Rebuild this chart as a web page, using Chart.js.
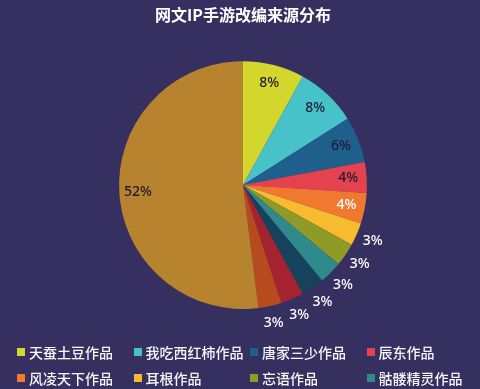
<!DOCTYPE html>
<html>
<head>
<meta charset="utf-8">
<script src="https://cdn.jsdelivr.net/npm/chart.js@4"></script>
<style>
  html, body { margin: 0; padding: 0; background: #363060; }
  #wrap { position: relative; width: 480px; height: 389px; overflow: hidden; }
  #legend {
    position: absolute; left: 14px; top: 339px; width: 470px;
    display: grid; grid-template-columns: repeat(4, 116.5px); grid-auto-rows: 26px;
    font-family: "Noto Sans CJK SC", sans-serif; font-size: 14px; font-weight: 500; color: #f6f6f6;
  }
  #legend div { display: flex; align-items: center; white-space: nowrap; }
  #legend span.box { width: 8px; height: 8px; margin: 0 4px 0 3px; }
</style>
</head>
<body>
<div id="wrap">
  <canvas id="c" width="480" height="389"></canvas>
  <div id="legend"></div>
</div>
<script>
// data
var categories = ["天蚕土豆作品", "我吃西红柿作品", "唐家三少作品", "辰东作品",
                  "风凌天下作品", "耳根作品", "忘语作品", "骷髅精灵作品",
                  "猫腻作品", "烽火戏诸侯作品", "天下霸唱作品", "其他"];
var shares = [8, 8, 6, 4, 4, 3, 3, 3, 3, 3, 3, 52];
var colors = ["#d3d62c", "#48c2c9", "#1f5f8c", "#e3424e", "#f0792f", "#f8bb2f",
              "#8f9a27", "#2f8a8c", "#16425e", "#a5232f", "#b84b1e", "#b8832e"];
var legendCount = 8;

// percent labels on / beside the slices
var pctLabels = {
    id: 'pctLabels',
    afterDatasetsDraw(chart){
        var ctx = chart.ctx;
        var meta = chart.getDatasetMeta(0);
        ctx.save();
        ctx.font = '500 14px "Noto Sans", sans-serif';
        ctx.textAlign = 'center';
        ctx.textBaseline = 'middle';
        meta.data.forEach(function(arc, i){
            var p = arc.getProps(['startAngle','endAngle','outerRadius','x','y'], true);
            var mid = (p.startAngle + p.endAngle) / 2;
            var outside = shares[i] < 4;
            var r = p.outerRadius * (outside ? 1.14 : 0.85);
            ctx.fillStyle = (outside || i == 4) ? '#ffffff' : '#1e1b30';
            ctx.fillText(shares[i] + '%', p.x + Math.cos(mid) * r, p.y + Math.sin(mid) * r);
        });
        ctx.restore();
    }
};

// grid legend below the pie
var htmlLegend = {
    id: 'htmlLegend',
    afterUpdate(chart){
        var box = document.getElementById('legend');
        box.innerHTML = '';
        var items = chart.options.plugins.legend.labels.generateLabels(chart);
        items.slice(0, legendCount).forEach(function(item){
            var d = document.createElement('div');
            var sw = document.createElement('span');
            sw.className = 'box';
            sw.style.background = item.fillStyle;
            d.appendChild(sw);
            d.appendChild(document.createTextNode(item.text));
            box.appendChild(d);
        });
    }
};

var myChart = new Chart(document.getElementById('c'), {
    type: 'pie',
    data: {
        labels: categories,
        datasets: [{
            data: shares,
            backgroundColor: colors,
            borderWidth: 0
        }]
    },
    options: {
        responsive: false,
        animation: false,
        layout: { padding: { top: 0, bottom: 80, left: 6, right: 0 } },
        plugins: {
            legend: { display: false },
            tooltip: { enabled: false },
            title: {
                display: true,
                text: '网文IP手游改编来源分布',
                color: '#ffffff',
                font: { family: '"Noto Sans CJK SC", sans-serif', size: 16, weight: 'bold' },
                padding: { top: 5, bottom: 37 }
            }
        }
    },
    plugins: [pctLabels, htmlLegend]
});
</script>
</body>
</html>
